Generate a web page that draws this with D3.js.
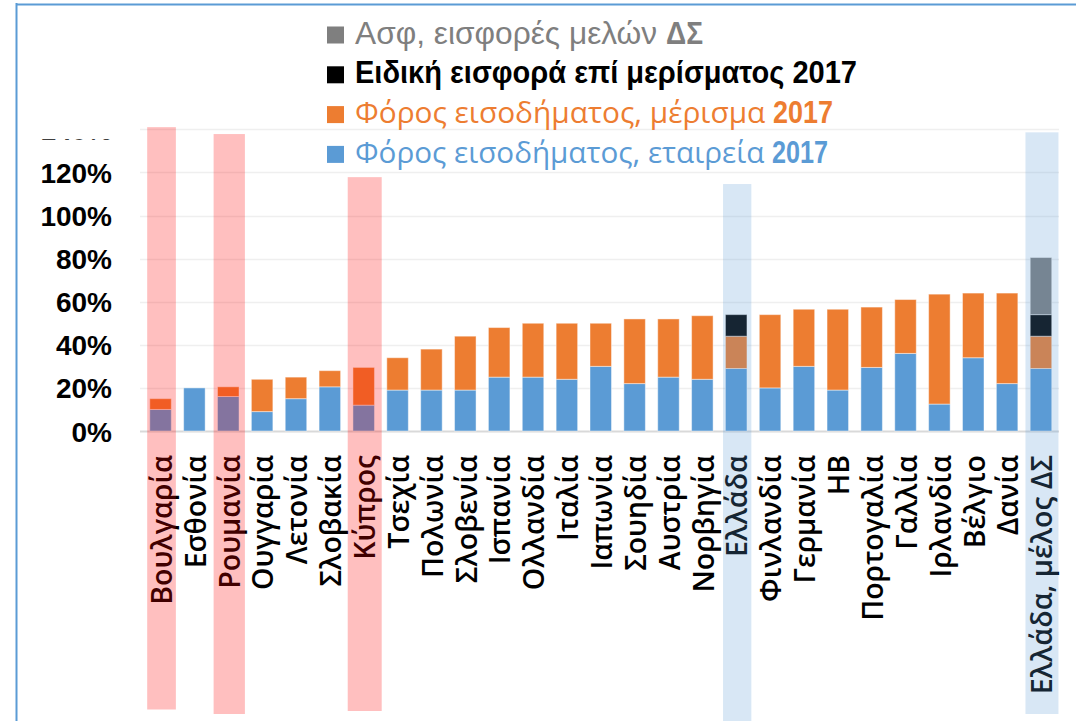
<!DOCTYPE html>
<html>
<head>
<meta charset="utf-8">
<script src="https://cdn.jsdelivr.net/npm/d3@7"></script>
<style>
  body { margin: 0; background: #fff; }
  svg { display: block; }
</style>
</head>
<body>
<div id="chart"></div>
<script>
// categories
const countries = ["Βουλγαρία", "Εσθονία", "Ρουμανία", "Ουγγαρία", "Λετονία", "Σλοβακία", "Κύπρος",
  "Τσεχία", "Πολωνία", "Σλοβενία", "Ισπανία", "Ολλανδία", "Ιταλία", "Ιαπωνία", "Σουηδία", "Αυστρία",
  "Νορβηγία", "Ελλάδα", "Φινλανδία", "Γερμανία", "ΗΒ", "Πορτογαλία", "Γαλλία", "Ιρλανδία", "Βέλγιο",
  "Δανία", "Ελλάδα, μέλος ΔΣ"];

// series values (%)
const corpTax = [10, 20, 16, 9, 15, 20.5, 12, 19, 19, 19, 25, 25, 24, 30, 22, 25, 24, 29, 20, 30, 19, 29.5, 36, 12.5, 34, 22, 29];
const divTax = [5, 0, 4.5, 15, 10, 7.5, 17.5, 15, 19, 25, 23, 25, 26, 20, 30, 27, 29.5, 15, 34, 26.5, 37.5, 28, 25, 51, 30, 42, 15];
const specialContrib = [0, 0, 0, 0, 0, 0, 0, 0, 0, 0, 0, 0, 0, 0, 0, 0, 0, 10, 0, 0, 0, 0, 0, 0, 0, 0, 10];
const insContrib = [0, 0, 0, 0, 0, 0, 0, 0, 0, 0, 0, 0, 0, 0, 0, 0, 0, 0, 0, 0, 0, 0, 0, 0, 0, 0, 26.5];

const yTicks = [0, 20, 40, 60, 80, 100, 120, 140];

// highlighted columns (top of band in %)
const highlights = [
  {name: "Βουλγαρία", kind: "red", top: 141},
  {name: "Ρουμανία", kind: "red", top: 137.8},
  {name: "Κύπρος", kind: "red", top: 117.8},
  {name: "Ελλάδα", kind: "blue", top: 114.6},
  {name: "Ελλάδα, μέλος ΔΣ", kind: "blue", top: 138.6}
];

const keys = ["corp", "div", "special", "ins"];
const colors = {corp: "#5b9bd5", div: "#ed7d31", special: "#000000", ins: "#7f7f7f"};

const W = 1076, H = 721;

let svg = d3.select("#chart").append("svg")
    .attr("width", W)
    .attr("height", H);

// frame
svg.append("line").attr("x1", 16.5).attr("x2", 16.5).attr("y1", 3).attr("y2", H)
    .attr("stroke", "#5b9bd5").attr("stroke-width", 2);
svg.append("line").attr("x1", 16).attr("x2", W).attr("y1", 4.5).attr("y2", 4.5)
    .attr("stroke", "#5b9bd5").attr("stroke-width", 2);

let x = d3.scaleBand()
    .domain(countries)
    .range([143.6, 1057.9])
    .paddingInner(0.365)
    .paddingOuter(0.1825);

let y = d3.scaleLinear()
    .domain([0, 140])
    .range([431, 129.3]);

// grid lines
svg.append("g").selectAll("line")
    .data(yTicks)
    .join("line")
    .attr("x1", 140)
    .attr("x2", 1059)
    .attr("y1", d => Math.round(y(d)) + 0.5)
    .attr("y2", d => Math.round(y(d)) + 0.5)
    .attr("stroke", d => d === 0 ? "#d9d9d9" : "#efefef")
    .attr("stroke-width", d => d === 0 ? 2 : 1.5);

// y axis labels (top label clipped like in the original)
svg.append("clipPath").attr("id", "yclip")
    .append("rect").attr("x", -120).attr("y", 139.3).attr("width", 140).attr("height", 400);

let yAxis = svg.append("g")
    .attr("clip-path", "url(#yclip)")
    .attr("transform", "translate(112,0)")
    .call(d3.axisLeft(y).tickValues(yTicks).tickFormat(d => d + "%").tickSize(0).tickPadding(0));
yAxis.select(".domain").remove();
yAxis.selectAll("text")
    .attr("font-family", "'Liberation Sans', Arial, sans-serif")
    .attr("font-weight", "bold")
    .attr("font-size", 28)
    .attr("fill", "#000")
    .attr("dy", "0.36em");

// stacked bars
const table = countries.map((c, i) => ({
  country: c, corp: corpTax[i], div: divTax[i], special: specialContrib[i], ins: insContrib[i]
}));
const series = d3.stack().keys(keys)(table);

svg.append("g").selectAll("g")
    .data(series)
    .join("g")
    .attr("fill", d => colors[d.key])
    .selectAll("rect")
    .data(d => d.filter(s => s[1] - s[0] > 0))
    .join("rect")
    .attr("x", d => x(d.data.country))
    .attr("width", x.bandwidth())
    .attr("y", d => y(d[1]))
    .attr("height", d => y(d[0]) - y(d[1]))
    .attr("stroke", "#ffffff")
    .attr("stroke-opacity", 0.45)
    .attr("stroke-width", 1);

// category labels
svg.append("g").selectAll("text")
    .data(countries)
    .join("text")
    .attr("transform", d => "translate(" + (x(d) + x.bandwidth() / 2 + 1) + ",455) rotate(-90)")
    .attr("text-anchor", "end")
    .attr("dy", "0.36em")
    .attr("font-family", "'Open Sans', 'Noto Sans', sans-serif")
    .attr("font-weight", 600)
    .attr("font-size", 28.5)
    .attr("fill", "#000")
    .text(d => d);

// highlight bands on top
const bandWidth = {"Βουλγαρία": 28.7, "Ρουμανία": 31.3, "Κύπρος": 34, "Ελλάδα": 28.3, "Ελλάδα, μέλος ΔΣ": 33};
const bandBottom = {"Βουλγαρία": 709.5, "Ρουμανία": 714, "Κύπρος": 711, "Ελλάδα": 721, "Ελλάδα, μέλος ΔΣ": 714};
svg.append("g").selectAll("rect")
    .data(highlights)
    .join("rect")
    .attr("x", d => x(d.name) + x.bandwidth() / 2 - bandWidth[d.name] / 2 + 1)
    .attr("width", d => bandWidth[d.name])
    .attr("y", d => y(d.top))
    .attr("height", d => bandBottom[d.name] - y(d.top))
    .attr("fill", d => d.kind === "red" ? "#ff0000" : "#5b9bd5")
    .attr("fill-opacity", d => d.kind === "red" ? 0.25 : 0.24);

// legend
const sansA = "'Liberation Sans', Arial, sans-serif";
const sansB = "'Open Sans', 'Noto Sans', sans-serif";
const legendRows = [
  {key: "ins", parts: [
    {t: "Ασφ, εισφορές μελών ", font: sansA, w: "normal", size: 31, x0: 355, x1: 666},
    {t: "ΔΣ", font: sansA, w: "bold", size: 31, x0: 666, x1: 703}]},
  {key: "special", parts: [
    {t: "Ειδική εισφορά επί μερίσματος 2017", font: sansA, w: "bold", size: 31, x0: 355, x1: 857}]},
  {key: "div", parts: [
    {t: "Φόρος εισοδήματος, μέρισμα ", font: sansB, w: 500, size: 28.5, x0: 355, x1: 773},
    {t: "2017", font: sansA, w: "bold", size: 31, x0: 773, x1: 833}]},
  {key: "corp", parts: [
    {t: "Φόρος εισοδήματος, εταιρεία ", font: sansB, w: 500, size: 28.5, x0: 355, x1: 772},
    {t: "2017", font: sansA, w: "bold", size: 31, x0: 772, x1: 828}]}
];
const legendColors = {ins: "#7f7f7f", special: "#000000", div: "#ed7d31", corp: "#5b9bd5"};

let legend = svg.append("g");
legendRows.forEach(function(row, i) {
  let baseY = 43.5 + i * 39.8;
  legend.append("rect")
      .attr("x", 327).attr("y", baseY - 17)
      .attr("width", 17).attr("height", 17)
      .attr("fill", legendColors[row.key]);
  let txt = legend.append("text")
      .attr("y", baseY)
      .attr("fill", legendColors[row.key]);
  row.parts.forEach(function(p) {
    txt.append("tspan")
        .attr("x", p.x0)
        .attr("font-family", p.font)
        .attr("font-weight", p.w)
        .attr("font-size", p.size)
        .attr("textLength", p.x1 - p.x0)
        .attr("lengthAdjust", "spacingAndGlyphs")
        .text(p.t);
  });
});
</script>
</body>
</html>
